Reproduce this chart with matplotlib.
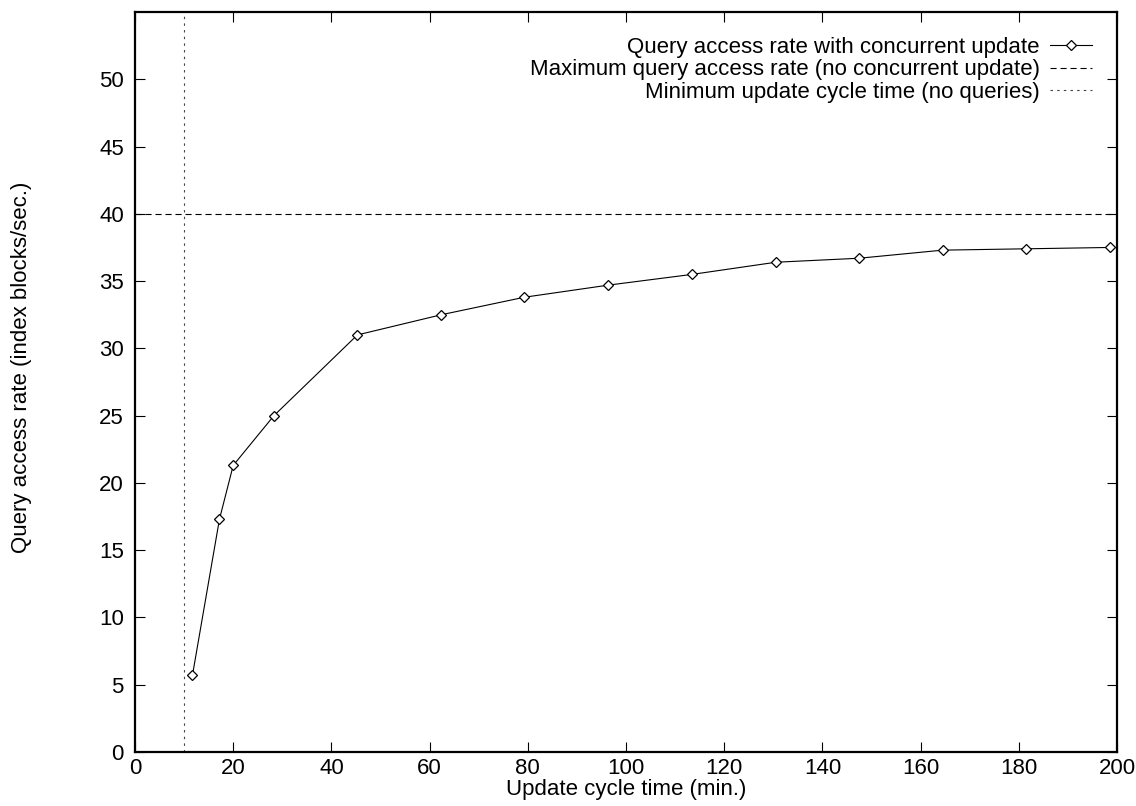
import matplotlib
matplotlib.use("Agg")
import matplotlib.pyplot as plt

# Data
update_cycle_time = [11.7, 17.2, 20.0, 28.3, 45.3, 62.4, 79.3, 96.4, 113.5, 130.5, 147.5, 164.5, 181.5, 198.6]
query_access_rate = [5.7, 17.3, 21.3, 25.0, 31.0, 32.5, 33.8, 34.7, 35.5, 36.4, 36.7, 37.3, 37.4, 37.5]
max_query_rate = 40
min_update_cycle = 10

series_labels = [
    "Query access rate with concurrent update",
    "Maximum query access rate (no concurrent update)",
    "Minimum update cycle time (no queries)",
]
x_ticks = list(range(0, 201, 20))
y_ticks = list(range(0, 51, 5))

plt.rcParams['font.family'] = ['Liberation Sans', 'DejaVu Sans']

fig = plt.figure(figsize=(11.36, 8.06), dpi=100)
ax = fig.add_axes([135/1136, 1 - 752/806, (1117-135)/1136, (752-12)/806])

ax.plot(update_cycle_time, query_access_rate, color='black', lw=0.8,
        marker='D', markersize=5.2, markerfacecolor='white',
        markeredgecolor='black', markeredgewidth=0.9, label=series_labels[0])
ax.axhline(max_query_rate, color='black', lw=0.8, linestyle=(0, (5.5, 3.5)),
           label=series_labels[1])
ax.axvline(min_update_cycle, color='#444444', lw=0.8, linestyle=(0, (2.2, 3.8)),
           label=series_labels[2])

ax.set_xlim(0, 200)
ax.set_ylim(0, 55)
ax.set_xticks(x_ticks)
ax.set_yticks(y_ticks)

ax.tick_params(direction='in', length=7.5, width=0.8, top=True, right=True,
               labelsize=16)
ax.tick_params(axis='y', pad=8)
ax.tick_params(axis='x', pad=4.5)
for s in ax.spines.values():
    s.set_linewidth(1.6)

ax.set_xlabel("Update cycle time (min.)", fontsize=16)
ax.set_ylabel("Query access rate (index blocks/sec.)", fontsize=16)
ax.xaxis.set_label_coords(0.5, -0.036)
ax.yaxis.set_label_coords(-0.105, 0.52)

leg = ax.legend(loc='upper right', bbox_to_anchor=(1 - 25/982, 1 - 25/740),
                frameon=False, markerfirst=False, fontsize=16,
                handlelength=1.9, handletextpad=0.45, labelspacing=0.06,
                borderpad=0, borderaxespad=0)

fig.savefig("out.png", dpi=100)
